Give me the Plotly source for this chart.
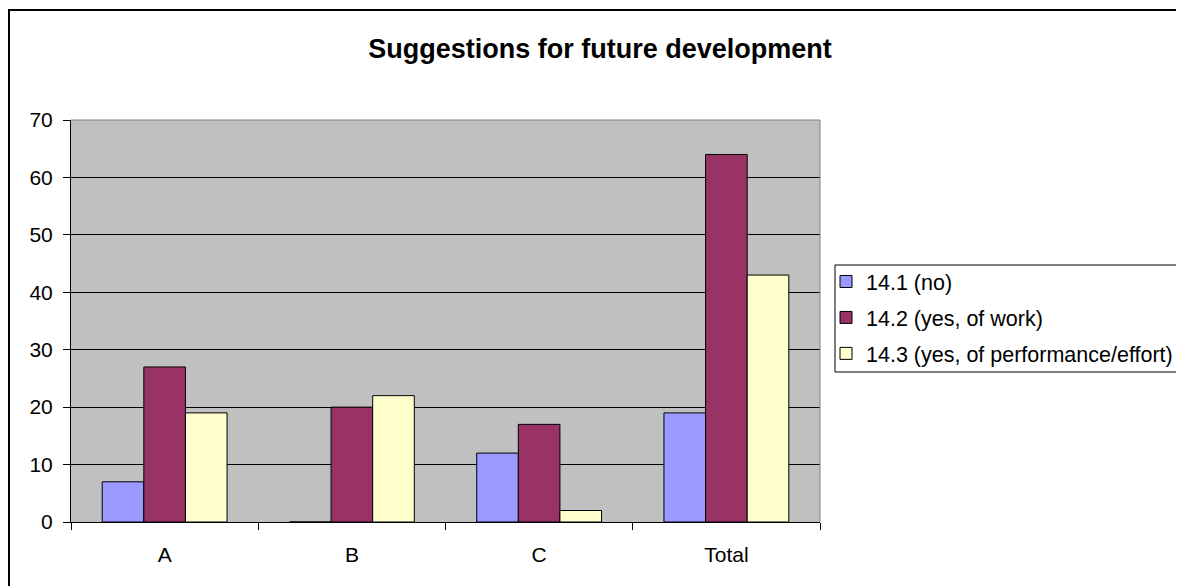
import plotly.graph_objects as go

categories = ["A", "B", "C", "Total"]
series_names = ["14.1 (no)", "14.2 (yes, of work)", "14.3 (yes, of performance/effort)"]
values_no = [7, 0, 12, 19]
values_work = [27, 20, 17, 64]
values_perf = [19, 22, 2, 43]
colors = ["#9999FF", "#993366", "#FFFFCC"]
y_ticks = [0, 10, 20, 30, 40, 50, 60, 70]

# page body has an 8px margin; work in screen pixels and convert
OFF = 8
W, H = 1184 - OFF, 586 - OFF
# plot area in screen pixels
SL, SR, ST, SB = 71, 820, 120, 522
L, R, T, B = SL - OFF, SR - OFF, ST - OFF, SB - OFF

FONT = "Arial, Liberation Sans, sans-serif"

fig = go.Figure()
for i, (name, vals) in enumerate(zip(series_names, [values_no, values_work, values_perf])):
    fig.add_trace(go.Bar(
        x=categories, y=vals, name=name, legendgroup=str(i),
        marker=dict(color=colors[i], line=dict(color="black", width=1)),
    ))

def px_x(p):  # screen px -> paper
    return (p - SL) / (SR - SL)

def px_y(p):
    return (SB - p) / (SB - ST)

fig.update_layout(
    width=W, height=H,
    margin=dict(l=L, r=W - R, t=T, b=H - B, pad=0, autoexpand=False),
    paper_bgcolor="white",
    plot_bgcolor="#C0C0C0",
    barmode="group",
    bargap=1/3,
    bargroupgap=0,
    font=dict(family=FONT, color="black", size=21),
    title=dict(text="<b>Suggestions for future development</b>",
               font=dict(family=FONT, size=27, color="black"),
               x=(600 - OFF) / W, xanchor="center", xref="container",
               y=1 - (49 - OFF) / H, yanchor="middle", yref="container"),
    showlegend=True,
    legend=dict(x=px_x(826), y=px_y(261), xanchor="left", yanchor="top",
                bgcolor="rgba(0,0,0,0)", borderwidth=0,
                font=dict(family=FONT, size=21.5, color="black"),
                tracegroupgap=5, itemwidth=30, traceorder="grouped"),
    xaxis=dict(
        showgrid=False, showline=True, linecolor="black", linewidth=1,
        ticks="outside", ticklen=7, tickcolor="black", tickson="boundaries",
        tickfont=dict(family=FONT, size=21, color="black"),
        ticklabelstandoff=14,
    ),
    yaxis=dict(
        range=[0, 70], tickvals=y_ticks,
        showgrid=True, gridcolor="black", gridwidth=1,
        showline=True, linecolor="black", linewidth=1,
        ticks="outside", ticklen=7, tickcolor="black",
        tickfont=dict(family=FONT, size=21, color="black"),
        ticklabelstandoff=6,
        zeroline=False,
    ),
    shapes=[
        # plot area gray border (top & right)
        dict(type="line", xref="paper", yref="paper", x0=0, x1=1, y0=1, y1=1,
             line=dict(color="#808080", width=1)),
        dict(type="line", xref="paper", yref="paper", x0=1, x1=1, y0=0, y1=1,
             line=dict(color="#808080", width=1)),
        # legend box
        dict(type="rect", xref="paper", yref="paper",
             x0=px_x(835), x1=px_x(1200), y0=px_y(265), y1=px_y(372),
             line=dict(color="black", width=1), fillcolor="rgba(0,0,0,0)", layer="below"),
        # outer chart border
        dict(type="rect", xref="paper", yref="paper",
             x0=px_x(9), x1=px_x(1200), y0=px_y(600), y1=px_y(10),
             line=dict(color="black", width=2), fillcolor="rgba(0,0,0,0)"),
    ],
)

fig.write_html("out.html")
